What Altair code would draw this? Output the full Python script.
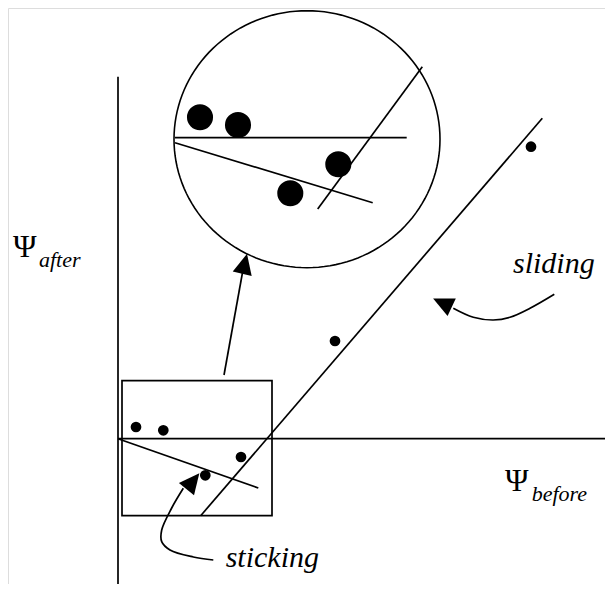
import altair as alt
import pandas as pd
import numpy as np

# ---- diagram data (units: Psi_before = u, Psi_after = v) ----
# straight segments: axes, slip line, fitted lines, arrow shaft
seg_name = ["axis_v", "axis_h", "slip_line", "fit_small", "zoom_h", "zoom_fit", "zoom_slip", "arrow_shaft"]
seg_u1 = [0.0, 0.0, 0.827, 0.0, 0.57, 0.57, 1.997, 1.06]
seg_v1 = [3.62, 0.0, -0.77, 0.0, 3.01, 2.96, 2.297, 0.637]
seg_u2 = [0.0, 4.95, 4.243, 1.403, 2.887, 2.547, 3.043, 1.245]
seg_v2 = [-1.53, 0.0, 3.204, -0.493, 3.01, 2.36, 3.72, 1.662]

# zoom box
box_u = [0.04, 1.54]
box_v = [0.58, -0.77]

# magnifier circle centre
circ_u = [1.89]
circ_v = [2.995]

# small data points
pt_u = [0.18, 0.453, 1.23, 0.873, 2.17, 4.13]
pt_v = [0.117, 0.084, -0.183, -0.366, 0.977, 2.92]

# magnified points
big_u = [0.82, 1.20, 2.203, 1.723]
big_v = [3.214, 3.137, 2.744, 2.454]

# curved arrows
slide_u = [4.363, 4.12, 3.92, 3.753, 3.553, 3.353]
slide_v = [1.444, 1.304, 1.214, 1.187, 1.214, 1.304]
stick_u = [0.953, 0.753, 0.52, 0.437, 0.437, 0.537, 0.653]
stick_v = [-1.213, -1.183, -1.113, -1.03, -0.913, -0.693, -0.496]

# arrow heads (centre and direction in degrees clockwise from up)
head_u = [3.244, 0.749, 1.266]
head_v = [1.358, -0.425, 1.749]
head_angle = [295, 39, 13.5]

# labels
psi_u = [-1.05, 3.87]
psi_v = [1.82, -0.52]
sub_text = ["after", "before"]
sub_u = [-0.79, 4.137]
sub_v = [1.72, -0.62]
word_text = ["sliding", "sticking"]
word_u = [3.95, 1.077]
word_v = [1.66, -1.28]

# ---- scales ----
xs = alt.Scale(domain=[-1.10, 4.87], nice=False, zero=False)
ys = alt.Scale(domain=[-1.453, 4.307], nice=False, zero=False)
X = lambda f: alt.X(f, type="quantitative", scale=xs, axis=None)
Y = lambda f: alt.Y(f, type="quantitative", scale=ys, axis=None)

seg_df = pd.DataFrame({"name": seg_name, "u": seg_u1, "v": seg_v1, "u2": seg_u2, "v2": seg_v2})
box_df = pd.DataFrame({"u": [box_u[0]], "u2": [box_u[1]], "v": [box_v[0]], "v2": [box_v[1]]})
circ_df = pd.DataFrame({"u": circ_u, "v": circ_v})
pt_df = pd.DataFrame({"u": pt_u, "v": pt_v})
big_df = pd.DataFrame({"u": big_u, "v": big_v})
slide_df = pd.DataFrame({"u": slide_u, "v": slide_v, "i": range(len(slide_u))})
stick_df = pd.DataFrame({"u": stick_u, "v": stick_v, "i": range(len(stick_u))})
head_df = pd.DataFrame({"u": head_u, "v": head_v, "a": head_angle})
psi_df = pd.DataFrame({"u": psi_u, "v": psi_v, "t": ["\u03a8", "\u03a8"]})
sub_df = pd.DataFrame({"u": sub_u, "v": sub_v, "t": sub_text})
word_df = pd.DataFrame({"u": word_u, "v": word_v, "t": word_text})

# ellipse outline path for the magnifier
tt = np.linspace(0, 2 * np.pi, 145)
ell = "M" + "L".join(f"{np.cos(a):.4f},{0.966 * np.sin(a):.4f}" for a in tt) + "Z"
arrow_path = "M0,-1L0.95,1L-0.95,1Z"

segs = alt.Chart(seg_df).mark_rule(color="black", strokeWidth=1.7).encode(
    x=X("u"), y=Y("v"), x2="u2", y2="v2")
box = alt.Chart(box_df).mark_rect(fillOpacity=0, stroke="black", strokeWidth=1.7).encode(
    x=X("u"), x2="u2", y=Y("v"), y2="v2")
circle = alt.Chart(circ_df).mark_point(shape=ell, filled=False, size=266 ** 2,
                                       color="black", strokeWidth=1.6, opacity=1).encode(
    x=X("u"), y=Y("v"))
pts = alt.Chart(pt_df).mark_point(shape="circle", filled=True, size=115, color="black", opacity=1).encode(
    x=X("u"), y=Y("v"))
bigs = alt.Chart(big_df).mark_point(shape="circle", filled=True, size=680, color="black", opacity=1).encode(
    x=X("u"), y=Y("v"))
slide = alt.Chart(slide_df).mark_line(color="black", strokeWidth=1.7, interpolate="catmull-rom").encode(
    x=X("u"), y=Y("v"), order="i:Q")
stick = alt.Chart(stick_df).mark_line(color="black", strokeWidth=1.7, interpolate="catmull-rom").encode(
    x=X("u"), y=Y("v"), order="i:Q")
heads = alt.Chart(head_df).mark_point(shape=arrow_path, filled=True, size=420, color="black", opacity=1).encode(
    x=X("u"), y=Y("v"), angle=alt.Angle("a:Q", scale=None))
psi = alt.Chart(psi_df).mark_text(font="Liberation Serif", fontSize=32, align="left",
                                  baseline="alphabetic", color="black").encode(
    x=X("u"), y=Y("v"), text="t:N")
sub = alt.Chart(sub_df).mark_text(font="Liberation Serif", fontSize=22, fontStyle="italic",
                                  align="left", baseline="alphabetic", color="black").encode(
    x=X("u"), y=Y("v"), text="t:N")
words = alt.Chart(word_df).mark_text(font="Liberation Serif", fontSize=30, fontStyle="italic",
                                     align="left", baseline="alphabetic", color="black").encode(
    x=X("u"), y=Y("v"), text="t:N")

chart = alt.layer(segs, box, circle, pts, bigs, slide, stick, heads, psi, sub, words).properties(
    width=597, height=576, padding=0, autosize="none"
).configure_view(strokeWidth=0).configure(background="white")

chart.save("out.html", embed_options={"renderer": "svg", "actions": False})
